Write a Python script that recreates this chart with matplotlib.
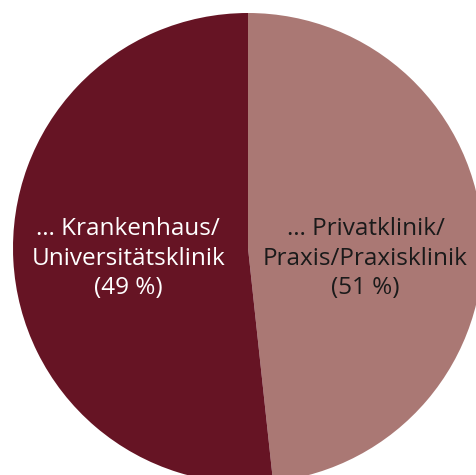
import matplotlib.pyplot as plt

# slice shares as drawn (the divider sits a bit right of the bottom)
labels = ['… Privatklinik/\nPraxis/Praxisklinik\n(51 %)',
          '… Krankenhaus/\nUniversitätsklinik\n(49 %)']
shares = [48.3, 51.7]
colors = ['#AA7874', '#661424']
text_colors = ['#1a1a1a', 'white']

fig = plt.figure(figsize=(4.76, 4.75), dpi=100)
ax = fig.add_axes([0, 0, 1, 1])

wedges, _ = ax.pie(shares, colors=colors, startangle=90, counterclock=False,
                   radius=1.0, wedgeprops=dict(linewidth=0))

# label centres (data units, radius = 1)
label_pos = [(0.50, -0.045), (-0.51, -0.045)]
for lab, (x, y), tc in zip(labels, label_pos, text_colors):
    ax.text(x, y, lab, ha='center', va='center', multialignment='center',
            color=tc, fontsize=17.5, family=['Open Sans', 'DejaVu Sans'],
            linespacing=1.3)

# circle of radius 235 px, centred at (248, 248) from the top-left corner
s = 235.0
ax.set_xlim(-248 / s, (476 - 248) / s)
ax.set_ylim(-(475 - 248) / s, 248 / s)
ax.set_aspect('auto')
ax.axis('off')

fig.savefig('out.png', dpi=100)
